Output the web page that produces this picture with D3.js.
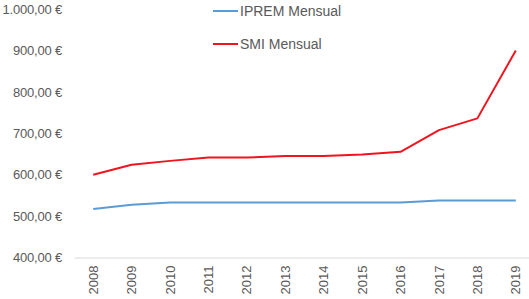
<!DOCTYPE html>
<html>
<head>
<meta charset="utf-8">
<script src="https://cdn.jsdelivr.net/npm/d3@7"></script>
<style>
  body { margin: 0; background: #fff; }
  svg { display: block; font-family: "Liberation Sans", Arial, sans-serif; }
</style>
</head>
<body>
<svg id="chart"></svg>
<script>
(function () {
var width = 529, height = 299

var years = ['2008','2009','2010','2011','2012','2013','2014','2015','2016','2017','2018','2019']
var iprem = [516.9, 527.24, 532.51, 532.51, 532.51, 532.51, 532.51, 532.51, 532.51, 537.84, 537.84, 537.84]
var smi = [600, 624, 633.3, 641.4, 641.4, 645.3, 645.3, 648.6, 655.2, 707.6, 735.9, 900]
var yTicks = [400, 500, 600, 700, 800, 900, 1000]
var seriesNames = ['IPREM Mensual', 'SMI Mensual']

var blue = '#5b9bd5'
var red = '#f0141e'
var textGray = '#595959'

var svg = d3.select('#chart')
    .attr('width', width)
    .attr('height', height)

var x = d3.scaleBand().domain(years).range([74, 535])
var y = d3.scaleLinear().domain([400, 1000]).range([257.5, 9])

// Spanish format: 1.000,00 €
var fmt = function (v) {
    var s = d3.format(',.2f')(v)
    s = s.replace(/,/g, '#').replace('.', ',').replace(/#/g, '.')
    return s + ' €'
}
var yAxis = d3.axisLeft(y).tickValues(yTicks).tickSize(0).tickPadding(0).tickFormat(fmt)
svg.append('g')
    .attr('transform', 'translate(62,0)')
    .call(yAxis)
    .call(g => g.select('.domain').remove())
    .selectAll('text')
    .attr('fill', textGray)
    .style('font-size', '13px')
    .style('letter-spacing', '-0.2px')

// x axis
var xAxis = d3.axisBottom(x).tickSize(0).tickPadding(0)
var gx = svg.append('g')
    .attr('transform', 'translate(0,' + y(400) + ')')
    .call(xAxis)
gx.select('.domain').attr('stroke', '#d9d9d9').attr('stroke-width', 1)
gx.selectAll('text')
    .attr('fill', textGray)
    .style('font-size', '13px')
    .attr('transform', 'rotate(-90)')
    .attr('text-anchor', 'end')
    .attr('x', -8)
    .attr('y', 0)
    .attr('dy', '0.35em')

var line = d3.line()
    .x((d, i) => x(years[i]) + x.bandwidth() / 2)
    .y(d => y(d))

var series = [
    {name: seriesNames[0], values: iprem, color: blue},
    {name: seriesNames[1], values: smi, color: red}
]

svg.selectAll('path.series')
    .data(series)
    .enter()
    .append('path')
    .attr('class', 'series')
    .attr('d', d => line(d.values))
    .attr('fill', 'none')
    .attr('stroke', d => d.color)
    .attr('stroke-width', 2)
    .attr('stroke-linejoin', 'round')

// legend
var lg = svg.selectAll('g.legend')
    .data(series)
    .enter()
    .append('g')
    .attr('class', 'legend')
    .attr('transform', (d, i) => 'translate(213,' + (11 + i * 33) + ')')
lg.append('line')
    .attr('x1', 0).attr('x2', 25)
    .attr('stroke', d => d.color)
    .attr('stroke-width', 2)
lg.append('text')
    .attr('x', 27)
    .attr('dy', '0.35em')
    .attr('fill', textGray)
    .style('font-size', '14px')
    .text(d => d.name)
})();
</script>
</body>
</html>
